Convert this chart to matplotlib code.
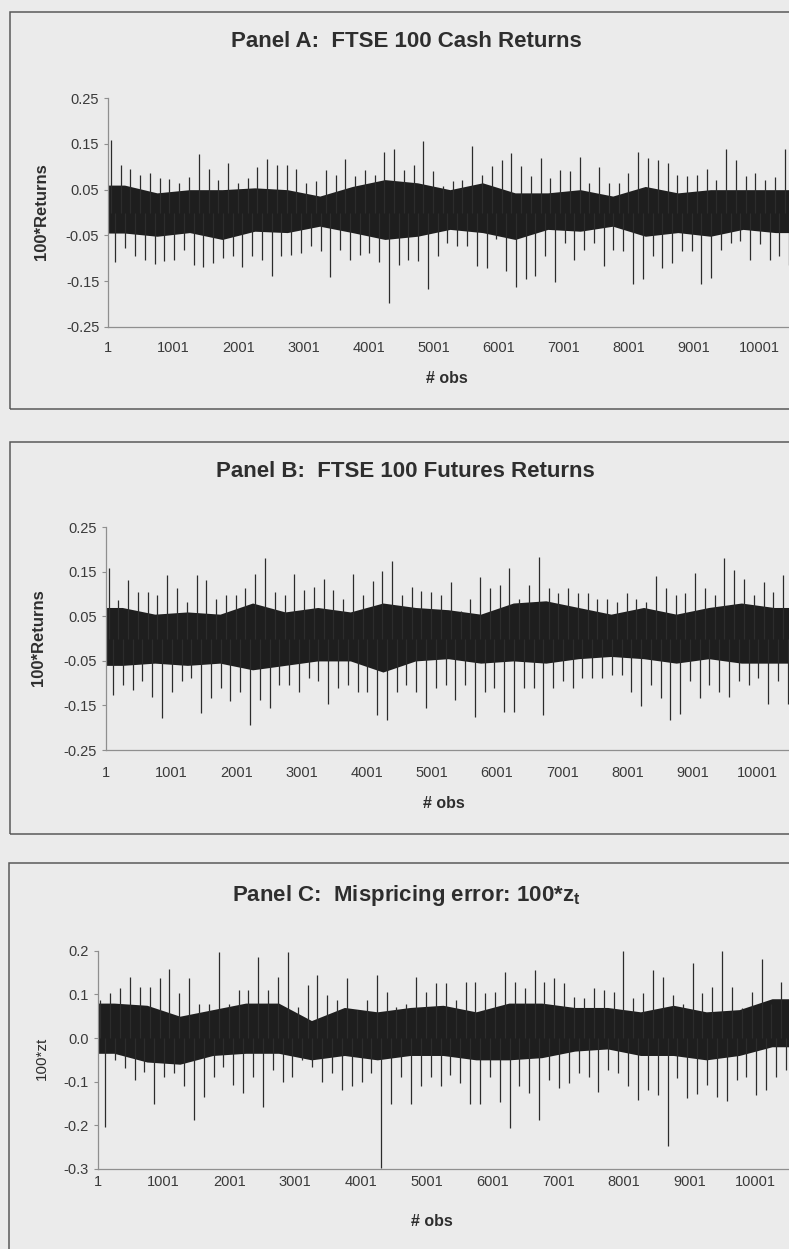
import numpy as np
import matplotlib
matplotlib.use('Agg')
import matplotlib.pyplot as plt
from matplotlib.patches import Rectangle

plt.rcParams['font.family'] = ['Liberation Sans', 'DejaVu Sans']
plt.rcParams['mathtext.fontset'] = 'custom'
plt.rcParams['mathtext.rm'] = 'Liberation Sans'
plt.rcParams['mathtext.bf'] = 'Liberation Sans:bold'

BIN = 150
a_hi = [0.158, 0.105, 0.096, 0.081, 0.087, 0.076, 0.074, 0.065, 0.077, 0.127,
        0.096, 0.072, 0.108, 0.065, 0.075, 0.099, 0.117, 0.105, 0.105, 0.095,
        0.065, 0.068, 0.092, 0.083, 0.117, 0.079, 0.094, 0.083, 0.132, 0.138,
        0.094, 0.105, 0.157, 0.090, 0.057, 0.068, 0.072, 0.145, 0.083, 0.101,
        0.116, 0.130, 0.101, 0.079, 0.119, 0.076, 0.094, 0.090, 0.122, 0.065,
        0.100, 0.065, 0.065, 0.087, 0.132, 0.119, 0.116, 0.108, 0.083, 0.079,
        0.083, 0.096, 0.072, 0.138, 0.116, 0.079, 0.087, 0.072, 0.078, 0.138]
a_lo = [-0.108, -0.077, -0.095, -0.103, -0.112, -0.106, -0.103, -0.081, -0.115, -0.119,
        -0.110, -0.099, -0.095, -0.119, -0.095, -0.103, -0.139, -0.095, -0.092, -0.088,
        -0.074, -0.084, -0.141, -0.081, -0.104, -0.092, -0.088, -0.108, -0.199, -0.114,
        -0.103, -0.106, -0.168, -0.095, -0.066, -0.074, -0.074, -0.117, -0.121, -0.059,
        -0.128, -0.162, -0.146, -0.138, -0.095, -0.152, -0.066, -0.103, -0.081, -0.066,
        -0.117, -0.081, -0.084, -0.157, -0.145, -0.095, -0.121, -0.110, -0.084, -0.084,
        -0.157, -0.143, -0.081, -0.066, -0.063, -0.103, -0.070, -0.103, -0.095, -0.114]

b_hi = [0.159, 0.087, 0.132, 0.105, 0.105, 0.098, 0.144, 0.114, 0.083, 0.143,
        0.132, 0.090, 0.098, 0.098, 0.113, 0.146, 0.180, 0.105, 0.098, 0.146,
        0.109, 0.117, 0.135, 0.109, 0.090, 0.146, 0.098, 0.129, 0.152, 0.174,
        0.098, 0.117, 0.107, 0.105, 0.098, 0.128, 0.061, 0.090, 0.139, 0.113,
        0.120, 0.158, 0.090, 0.120, 0.183, 0.113, 0.102, 0.113, 0.102, 0.102,
        0.090, 0.090, 0.083, 0.102, 0.090, 0.083, 0.141, 0.113, 0.099, 0.102,
        0.148, 0.113, 0.098, 0.182, 0.154, 0.135, 0.099, 0.128, 0.105, 0.144]
b_lo = [-0.126, -0.104, -0.115, -0.096, -0.130, -0.179, -0.119, -0.096, -0.089, -0.167,
        -0.134, -0.111, -0.141, -0.119, -0.194, -0.138, -0.156, -0.104, -0.104, -0.119,
        -0.089, -0.096, -0.147, -0.111, -0.104, -0.119, -0.119, -0.171, -0.182, -0.119,
        -0.104, -0.119, -0.155, -0.111, -0.104, -0.138, -0.104, -0.175, -0.119, -0.111,
        -0.164, -0.164, -0.111, -0.111, -0.171, -0.111, -0.096, -0.111, -0.089, -0.089,
        -0.089, -0.081, -0.081, -0.119, -0.152, -0.104, -0.134, -0.182, -0.170, -0.096,
        -0.134, -0.104, -0.119, -0.130, -0.096, -0.104, -0.089, -0.147, -0.096, -0.147]

c_hi = [0.087, 0.102, 0.114, 0.139, 0.118, 0.118, 0.137, 0.157, 0.102, 0.137,
        0.079, 0.079, 0.198, 0.079, 0.110, 0.110, 0.186, 0.110, 0.140, 0.198,
        0.072, 0.121, 0.144, 0.098, 0.087, 0.137, 0.064, 0.087, 0.144, 0.106,
        0.072, 0.079, 0.140, 0.106, 0.125, 0.125, 0.087, 0.129, 0.129, 0.102,
        0.106, 0.152, 0.129, 0.114, 0.156, 0.129, 0.137, 0.127, 0.095, 0.091,
        0.114, 0.110, 0.106, 0.199, 0.091, 0.102, 0.156, 0.140, 0.098, 0.079,
        0.171, 0.102, 0.118, 0.199, 0.118, 0.068, 0.106, 0.180, 0.079, 0.129]
c_lo = [-0.203, -0.050, -0.069, -0.096, -0.077, -0.151, -0.089, -0.081, -0.111, -0.188,
        -0.134, -0.089, -0.066, -0.108, -0.127, -0.089, -0.159, -0.073, -0.100, -0.089,
        -0.050, -0.066, -0.100, -0.081, -0.118, -0.111, -0.100, -0.081, -0.298, -0.150,
        -0.089, -0.150, -0.111, -0.089, -0.111, -0.085, -0.104, -0.150, -0.150, -0.089,
        -0.146, -0.207, -0.111, -0.127, -0.188, -0.096, -0.115, -0.104, -0.081, -0.089,
        -0.123, -0.073, -0.081, -0.111, -0.142, -0.119, -0.131, -0.247, -0.092, -0.138,
        -0.128, -0.108, -0.134, -0.144, -0.096, -0.089, -0.131, -0.119, -0.089, -0.073]

# edges of the dense dark band, one pair per block of 500 observations
BLOCK = 500
a_core_hi = [0.060, 0.043, 0.050, 0.050, 0.054, 0.050, 0.036, 0.057, 0.072, 0.065, 0.050,
             0.065, 0.043, 0.043, 0.050, 0.036, 0.057, 0.043, 0.050, 0.050, 0.050]
a_core_lo = [-0.045, -0.052, -0.044, -0.059, -0.041, -0.044, -0.030, -0.044, -0.059, -0.052, -0.037,
             -0.044, -0.059, -0.037, -0.041, -0.030, -0.052, -0.044, -0.052, -0.037, -0.044]
b_core_hi = [0.070, 0.055, 0.060, 0.055, 0.080, 0.060, 0.070, 0.060, 0.080, 0.070, 0.065,
             0.055, 0.080, 0.085, 0.070, 0.055, 0.070, 0.055, 0.070, 0.080, 0.070]
b_core_lo = [-0.060, -0.055, -0.060, -0.055, -0.070, -0.060, -0.050, -0.050, -0.075, -0.050, -0.045,
             -0.055, -0.050, -0.055, -0.045, -0.040, -0.045, -0.055, -0.045, -0.055, -0.055]
c_core_hi = [0.080, 0.075, 0.050, 0.065, 0.080, 0.080, 0.040, 0.070, 0.060, 0.070, 0.075,
             0.060, 0.080, 0.080, 0.070, 0.070, 0.060, 0.075, 0.060, 0.065, 0.090]
c_core_lo = [-0.035, -0.055, -0.060, -0.040, -0.035, -0.035, -0.050, -0.040, -0.050, -0.040, -0.040,
             -0.050, -0.050, -0.045, -0.030, -0.025, -0.040, -0.040, -0.050, -0.040, -0.020]

ret_ticks = [0.25, 0.15, 0.05, -0.05, -0.15, -0.25]
ret_labels = ['0.25', '0.15', '0.05', '-0.05', '-0.15', '-0.25']
z_ticks = [0.2, 0.1, 0.0, -0.1, -0.2, -0.3]
z_labels = ['0.2', '0.1', '0.0', '-0.1', '-0.2', '-0.3']
obs_ticks = [1, 1001, 2001, 3001, 4001, 5001, 6001, 7001, 8001, 9001, 10001]

W, H = 789, 1249
BG = '#ebebeb'
fig = plt.figure(figsize=(W / 100, H / 100), dpi=100, facecolor=BG)


def fx(x):
    return x / W


def fy(y):
    return 1 - y / H


def panel(left, top, bottom, xmax, hi, lo, core_hi, core_lo, yticks, ylabels, xpad):
    ax = fig.add_axes([fx(left), fy(bottom), 1 - fx(left), (bottom - top) / H])
    ax.set_facecolor('none')
    # dark band through the block centres
    cx = np.concatenate([[1], np.arange(len(core_hi)) * BLOCK + BLOCK / 2, [xmax]])
    chi = [core_hi[0]] + core_hi + [core_hi[-1]]
    clo = [core_lo[0]] + core_lo + [core_lo[-1]]
    ax.fill_between(cx, clo, chi, color='#1e1e1e', lw=0)
    # the spikes of the series
    start = np.arange(len(hi)) * BIN + 1
    ax.vlines(start + 40, 0, hi, color='#2c2c2c', lw=0.9)
    ax.vlines(start + 110, 0, lo, color='#2c2c2c', lw=0.9)
    ax.set_xlim(1, xmax)
    ax.set_ylim(yticks[-1], yticks[0])
    ax.set_yticks(yticks)
    ax.set_yticklabels(ylabels)
    ax.set_xticks(obs_ticks)
    ax.set_xticklabels([str(t) for t in obs_ticks])
    for s in ['top', 'right']:
        ax.spines[s].set_visible(False)
    for s in ['left', 'bottom']:
        ax.spines[s].set_color('#8f8f8f')
        ax.spines[s].set_linewidth(0.9)
    ax.tick_params(axis='y', length=3, width=0.8, color='#8f8f8f', pad=3.5,
                   labelsize=10.5, labelcolor='#3a3a3a')
    ax.tick_params(axis='x', length=0, pad=xpad, labelsize=10.5, labelcolor='#3a3a3a')
    return ax


panel(108.3, 98.3, 326.7, 10457, a_hi, a_lo, a_core_hi, a_core_lo, ret_ticks, ret_labels, 10.5)
panel(106.0, 527.3, 750.0, 10481, b_hi, b_lo, b_core_hi, b_core_lo, ret_ticks, ret_labels, 11.5)
panel(97.7, 950.7, 1169.0, 10507, c_hi, c_lo, c_core_hi, c_core_lo, z_ticks, z_labels, 4)

# panel frames
for x0, y0, y1 in [(10, 11.7, 409), (9.5, 442.3, 834), (8.5, 863.3, 1300)]:
    fig.add_artist(Rectangle((fx(x0), fy(y1)), 1.2, (y1 - y0) / H, transform=fig.transFigure,
                             fill=False, edgecolor='#5a5a5a', lw=1.1))

tc = '#2e2e2e'
fig.text(fx(406.5), fy(41.7), 'Panel A:  FTSE 100 Cash Returns', ha='center', va='center',
         fontsize=16, fontweight='bold', color=tc)
fig.text(fx(405), fy(471.7), 'Panel B:  FTSE 100 Futures Returns', ha='center', va='center',
         fontsize=16, fontweight='bold', color=tc)
fig.text(fx(406.7), fy(895), r'Panel C:  Mispricing error: 100*z$_\mathbf{t}$', ha='center',
         va='center', fontsize=16, fontweight='bold', color=tc)

fig.text(fx(41.7), fy(212), '100*Returns', rotation=90, ha='center', va='center',
         fontsize=12, fontweight='bold', color=tc)
fig.text(fx(38.3), fy(638), '100*Returns', rotation=90, ha='center', va='center',
         fontsize=12, fontweight='bold', color=tc)
fig.text(fx(41.7), fy(1058), '100*zt', rotation=90, ha='center', va='center',
         fontsize=11, color=tc)

for x, y in [(447, 379), (444, 803), (432, 1221.7)]:
    fig.text(fx(x), fy(y), '# obs', ha='center', va='center', fontsize=11.5,
             fontweight='bold', color=tc)

fig.savefig('out.png', dpi=100, facecolor=BG)
